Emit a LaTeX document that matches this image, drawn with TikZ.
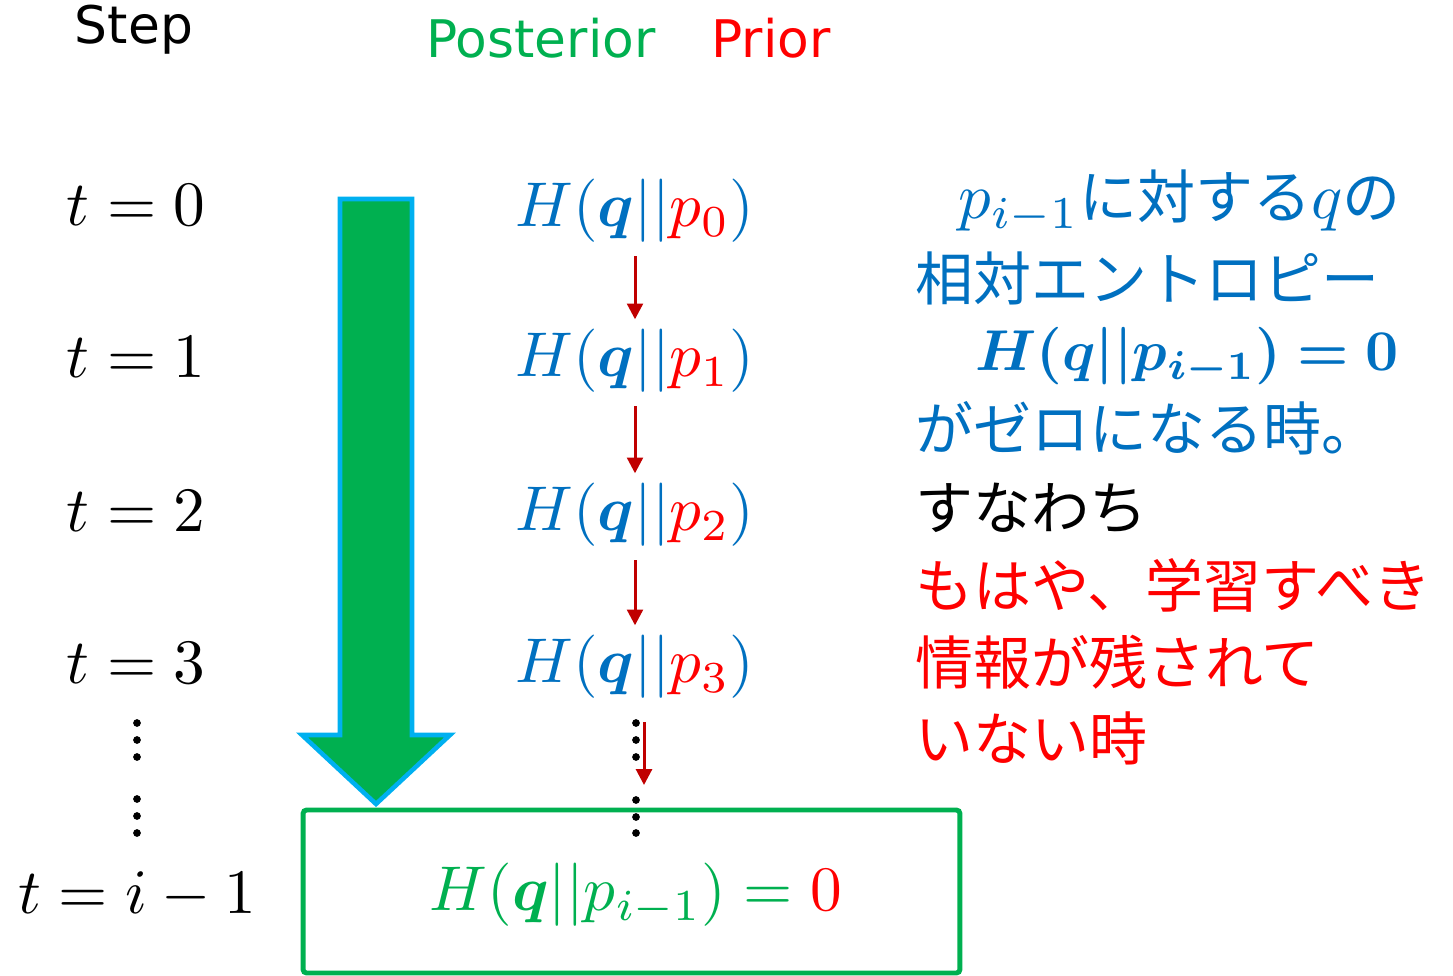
\documentclass[tikz,border=0pt]{standalone}
\usepackage{amsmath,bm}
\usepackage{fontspec}
\newfontfamily\jp{Noto Sans CJK JP}
\newfontfamily\sfv{DejaVu Sans}
\usetikzlibrary{arrows.meta}
\definecolor{pblue}{RGB}{0,112,192}
\definecolor{pred}{RGB}{255,0,0}
\definecolor{pgreen}{RGB}{0,176,80}
\definecolor{pcyan}{RGB}{0,176,240}
\definecolor{darkred}{RGB}{192,0,0}
\newcommand\scm[2]{\scalebox{#1}{\normalsize$#2$}}
\tikzset{
  sflbl/.style={font=\sfv\fontsize{29.5}{34}\selectfont, inner sep=0},
  mathlbl/.style={scale=3.6, inner sep=0},
  jtxt/.style={font=\jp\fontsize{33}{38}\selectfont, anchor=west, inner sep=0},
  redarr/.style={draw=darkred, line width=1.7pt, -{Triangle[length=9pt,width=9pt]}},
  dotf/.style={fill=black},
}
\begin{document}
\begin{tikzpicture}[x=0.02cm,y=-0.02cm]
\useasboundingbox (0,0) rectangle (1453,976);
% headings
\node[sflbl] (step) at (134,30) {Step};
\node[sflbl, text=pgreen] (post) at (541,38) {Posterior};
\node[sflbl, text=pred] (prior) at (771,38) {Prior};
% step labels
\node[mathlbl] (t0) at (136,205) {$t=0$};
\node[mathlbl] (t1) at (136,357) {$t=1$};
\node[mathlbl] (t2) at (136,511) {$t=2$};
\node[mathlbl] (t3) at (136,663) {$t=3$};
\node[mathlbl] (ti) at (137,895) {$t=i-1$};
\foreach \y in {723,740,757,799,816,833} \fill[dotf] (137,\y) circle (2.2pt);
% big arrow
\draw[line width=2.6pt, draw=pcyan, fill=pgreen, line join=miter]
  (340,199) -- (412,199) -- (412,735) -- (450,735) -- (376,804) -- (302,735) -- (340,735) -- cycle;
% H column
\node[mathlbl, text=pblue] (h0) at (635,211) {$H(\boldsymbol{q}||\textcolor{pred}{p_0})$};
\node[mathlbl, text=pblue] (h1) at (635,361) {$H(\boldsymbol{q}||\textcolor{pred}{p_1})$};
\node[mathlbl, text=pblue] (h2) at (635,515) {$H(\boldsymbol{q}||\textcolor{pred}{p_2})$};
\node[mathlbl, text=pblue] (h3) at (635,667) {$H(\boldsymbol{q}||\textcolor{pred}{p_3})$};
\draw[redarr, shorten <=7pt, shorten >=5pt] (h0.south) -- (h1.north);
\draw[redarr, shorten <=7pt, shorten >=5pt] (h1.south) -- (h2.north);
\draw[redarr, shorten <=7pt, shorten >=5pt] (h2.south) -- (h3.north);
\foreach \y in {723,740,757,800,817,833} \fill[dotf] (636,\y) circle (2.2pt);
\coordinate (a4s) at (644,722);
\coordinate (a4e) at (644,785);
\draw[redarr] (a4s) -- (a4e);
% final box
\node[draw=pgreen, line width=2.8pt, rounded corners=2pt, minimum width=13.14cm, minimum height=3.26cm, inner sep=0]
  (box) at (631.5,891.5) {};
\node[mathlbl, text=pgreen] (hfinal) at (636,895) {$H(\boldsymbol{q}||p_{i-1}) = \textcolor{pred}{0}$};
% right text
\node[jtxt, text=pblue] (r1) at (958,202) {\scm{3.7}{p_{i-1}}に対する\scm{3.7}{q}の};
\node[jtxt, text=pblue] (r2) at (915,278) {相対エントロピー};
\node[jtxt, text=pblue] (r3) at (975,357) {\scm{3.28}{\boldsymbol{H(q||p_{i-1})=0}}};
\node[jtxt, text=pblue] (r4) at (915,428) {がゼロになる時。};
\node[jtxt, text=black] (r5) at (915,508) {すなわち};
\node[jtxt, text=pred] (r6) at (915,585) {もはや、学習すべき};
\node[jtxt, text=pred] (r7) at (915,662) {情報が残されて};
\node[jtxt, text=pred] (r8) at (915,738) {いない時};
\end{tikzpicture}
\end{document}
